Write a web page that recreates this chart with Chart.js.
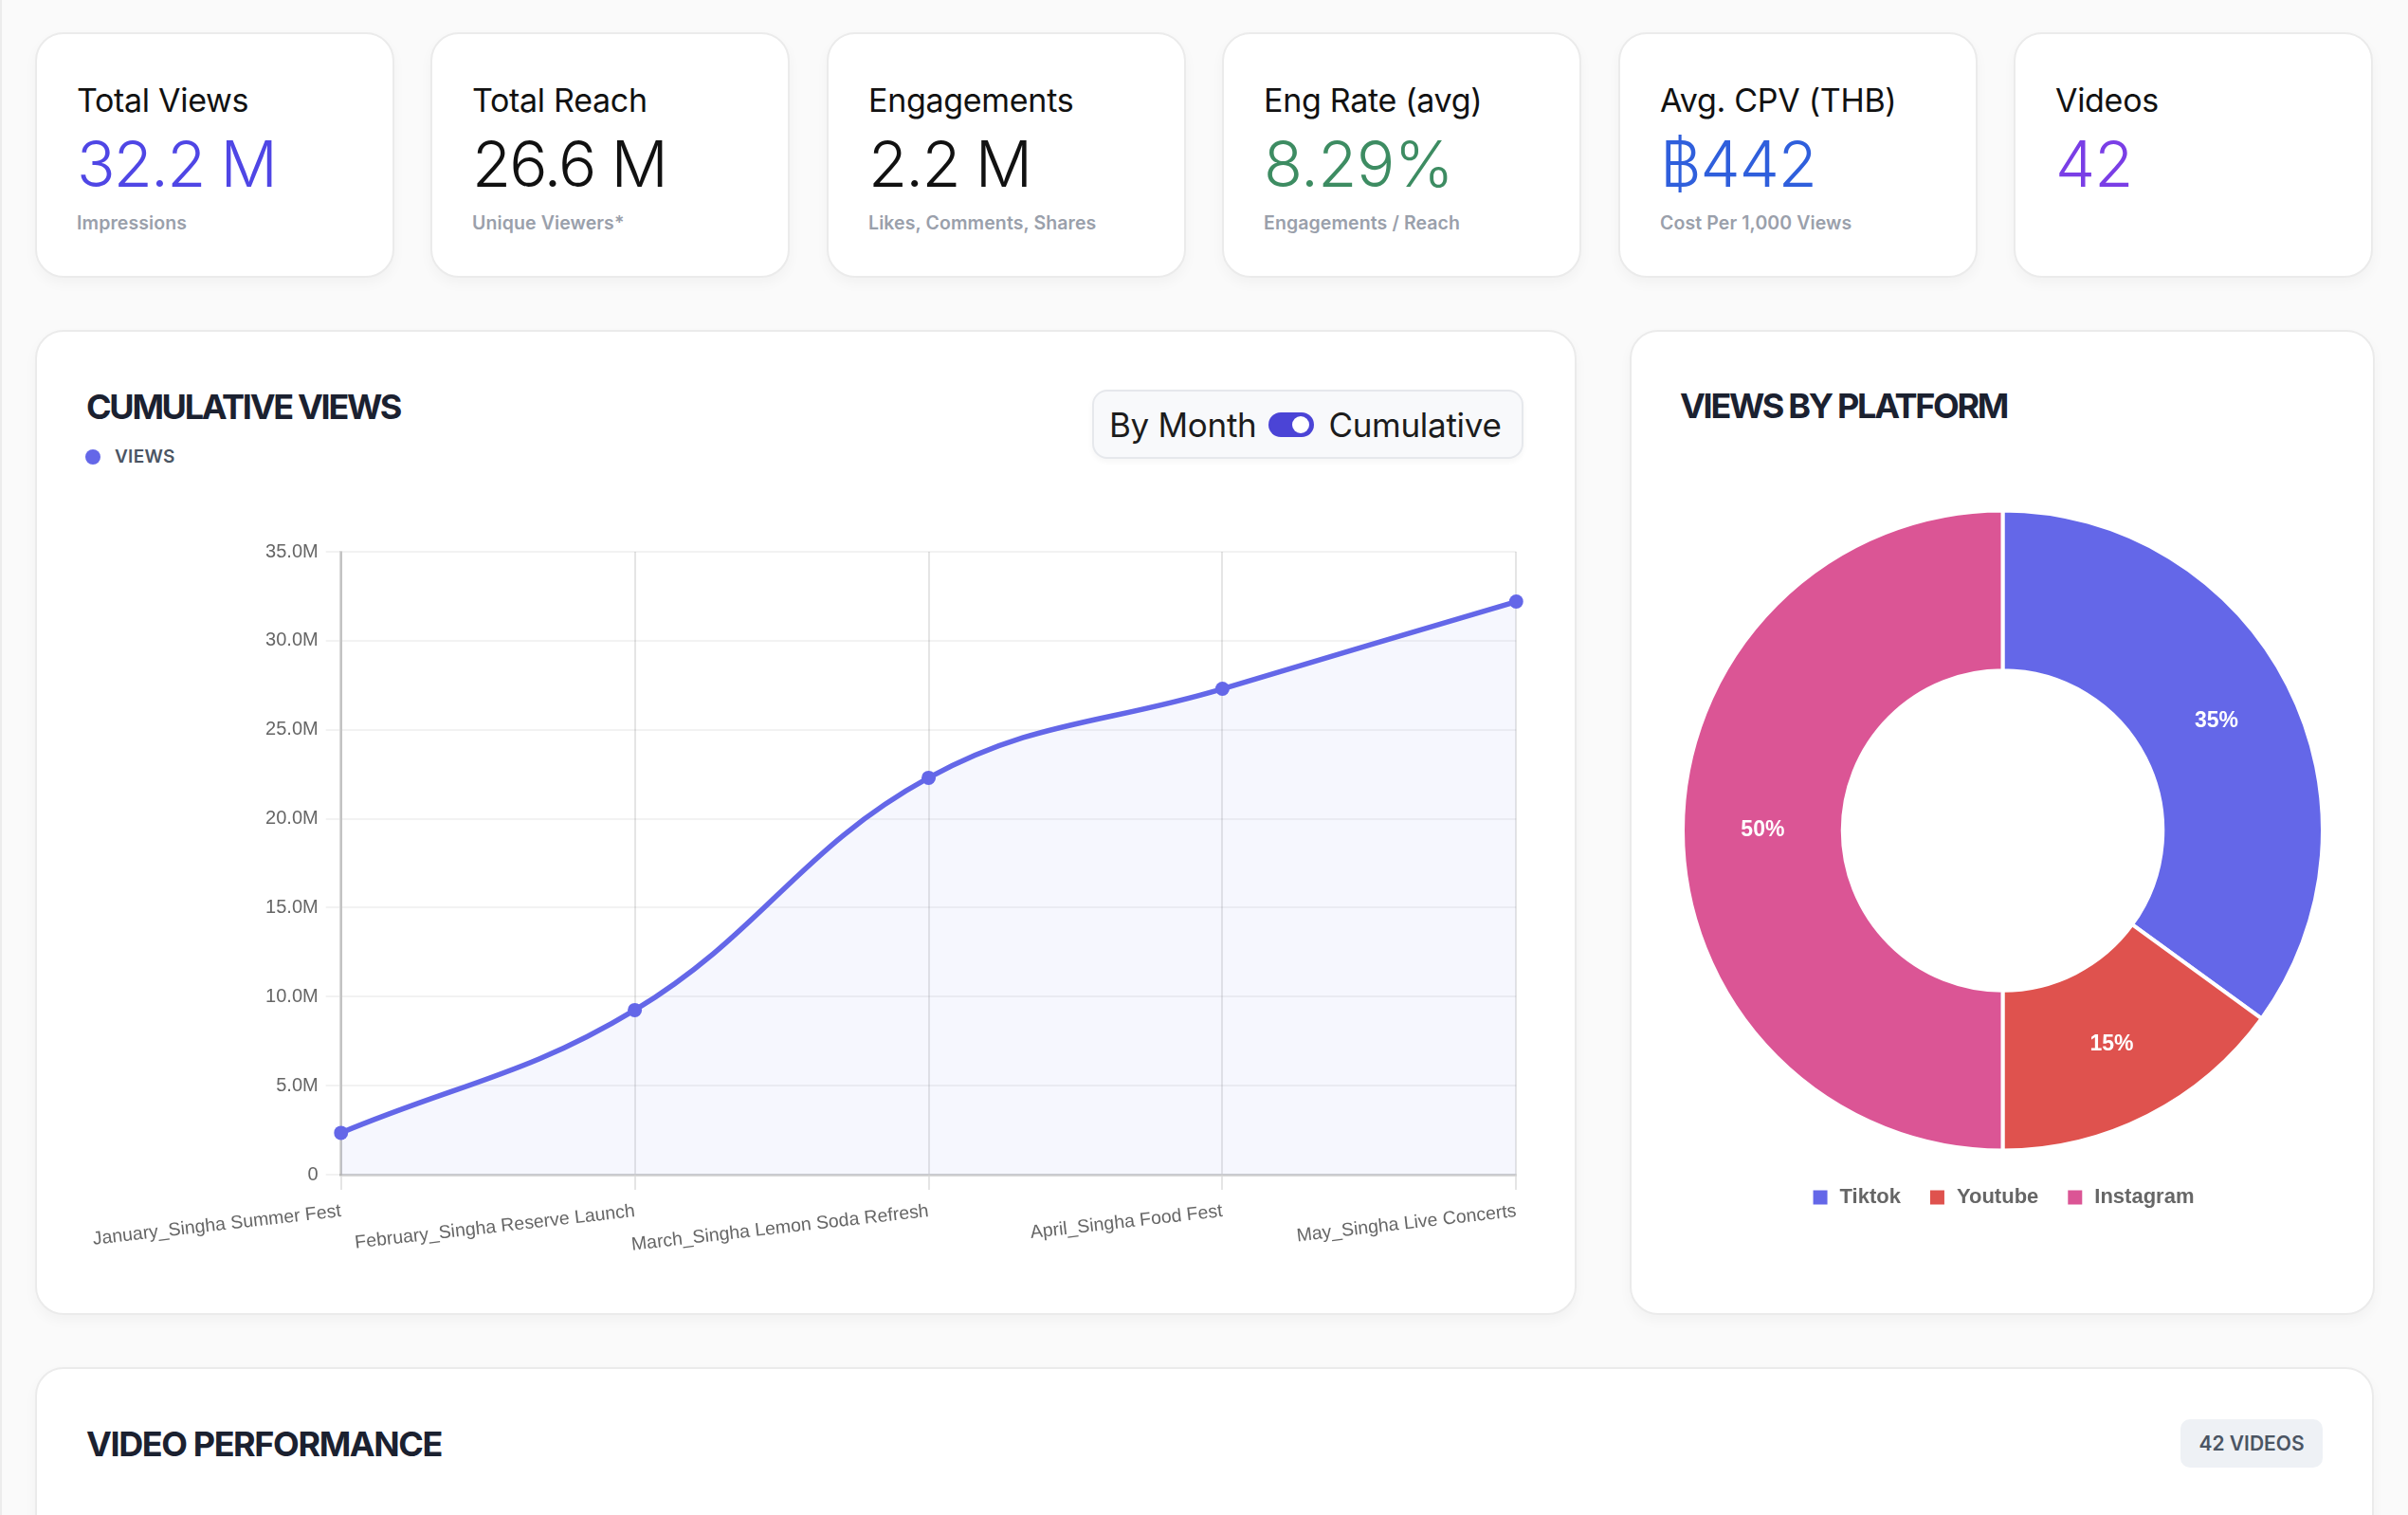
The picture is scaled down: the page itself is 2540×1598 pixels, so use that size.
<!DOCTYPE html>
<html lang="en">
<head>
<meta charset="utf-8">
<title>Campaign dashboard</title>
<script src="https://cdn.jsdelivr.net/npm/chart.js@4.4.1/dist/chart.umd.min.js"></script>
<style>
  * { box-sizing: border-box; }
  html, body { margin: 0; padding: 0; }
  body {
    width: 2540px; height: 1598px; overflow: hidden; position: relative;
    background: #fafafa; font-family: Inter, "Noto Sans", sans-serif; color: #111;
  }
  .borde { position: absolute; left: 0; top: 0; width: 2px; height: 1598px; background: #ececec; }
  .tarjeta {
    position: absolute; background: #fff; border: 2px solid #ebebeb;
    border-radius: 30px; box-shadow: 0 6px 14px rgba(0, 0, 0, 0.035);
  }
  .kpi { top: 34px; width: 379px; height: 259px; padding: 53px 0 0 42px; }
  .kpi .titulo { font-size: 34px; line-height: 34px; font-weight: 400; letter-spacing: -0.3px; }
  .kpi .valor { font-size: 67px; line-height: 67px; font-weight: 300; margin-top: 16px; letter-spacing: -1.8px; }
  .kpi .nota { font-size: 19.5px; line-height: 19.5px; font-weight: 600; color: #9aa0ab; margin-top: 20px; letter-spacing: 0.1px; }
  .encabezado {
    position: absolute; font-size: 36px; line-height: 36px; font-weight: 700;
    letter-spacing: -2.3px; color: #1b2130; white-space: nowrap;
  }
  .leyenda-vistas { position: absolute; left: 90px; top: 470px; display: flex; align-items: center; }
  .leyenda-vistas span.punto { width: 16px; height: 16px; border-radius: 50%; background: #6467e8; }
  .leyenda-vistas span.texto { margin-left: 15px; font-size: 19px; font-weight: 600; color: #4b5563; letter-spacing: 0.3px; }
  .conmutador {
    position: absolute; left: 1152px; top: 411px; width: 455px; height: 73px;
    border: 2px solid #e6e8ec; border-radius: 16px; background: #f8f9fb;
    display: flex; align-items: center; padding-left: 16px;
    font-size: 35px; color: #1c1c1c; letter-spacing: -0.3px;
    box-shadow: 0 3px 6px rgba(0, 0, 0, 0.04);
  }
  .switch { width: 48px; height: 26px; border-radius: 13px; background: #4b44d6; margin: 0 15px 0 13px; position: relative; }
  .switch::after { content: ""; position: absolute; right: 5px; top: 4px; width: 18px; height: 18px; border-radius: 50%; background: #fff; }
  .insignia {
    position: absolute; left: 2300px; top: 1497px; width: 150px; height: 51px;
    border-radius: 10px; background: #eef1f5; color: #4b5563;
    font-size: 21px; font-weight: 600; display: flex; align-items: center; justify-content: center;
  }
  canvas { position: absolute; }
</style>
</head>
<body>
<div class="borde"></div>

<div class="tarjeta kpi" style="left:37px"><div class="titulo">Total Views</div><div class="valor" style="color:#4f46e5">32.2 M</div><div class="nota">Impressions</div></div>
<div class="tarjeta kpi" style="left:454px"><div class="titulo">Total Reach</div><div class="valor">26.6 M</div><div class="nota">Unique Viewers*</div></div>
<div class="tarjeta kpi" style="left:872px"><div class="titulo">Engagements</div><div class="valor">2.2 M</div><div class="nota">Likes, Comments, Shares</div></div>
<div class="tarjeta kpi" style="left:1289px"><div class="titulo">Eng Rate (avg)</div><div class="valor" style="color:#3d8c62; letter-spacing:-0.5px">8.29%</div><div class="nota">Engagements / Reach</div></div>
<div class="tarjeta kpi" style="left:1707px"><div class="titulo">Avg. CPV (THB)</div><div class="valor" style="color:#2f5fdc; letter-spacing:-1px">฿442</div><div class="nota">Cost Per 1,000 Views</div></div>
<div class="tarjeta kpi" style="left:2124px"><div class="titulo">Videos</div><div class="valor" style="color:#7a3ee6; letter-spacing:-1px">42</div></div>

<div class="tarjeta" style="left:37px; top:348px; width:1626px; height:1039px"></div>
<div class="encabezado" style="left:91px; top:411px">CUMULATIVE VIEWS</div>
<div class="leyenda-vistas"><span class="punto"></span><span class="texto">VIEWS</span></div>
<div class="conmutador"><span>By Month</span><span class="switch"></span><span>Cumulative</span></div>
<canvas id="grafico" width="1526" height="774" style="left:87px; top:562px"></canvas>

<div class="tarjeta" style="left:1719px; top:348px; width:786px; height:1039px"></div>
<div class="encabezado" style="left:1772px; top:410px">VIEWS BY PLATFORM</div>
<canvas id="dona" width="679" height="755" style="left:1773px; top:529px"></canvas>

<div class="tarjeta" style="left:37px; top:1442px; width:2467px; height:400px"></div>
<div class="encabezado" style="left:91px; top:1505px; letter-spacing:-1.4px">VIDEO PERFORMANCE</div>
<div class="insignia">42 VIDEOS</div>

<script>
const etiquetas = [
  "January_Singha Summer Fest",
  "February_Singha Reserve Launch",
  "March_Singha Lemon Soda Refresh",
  "April_Singha Food Fest",
  "May_Singha Live Concerts"
];
const vistasAcumuladas = [2350000, 9250000, 22300000, 27300000, 32200000];
const ejeMaximo = 35000000;
const ejePaso = 5000000;

const plataformas = ["Tiktok", "Youtube", "Instagram"];
const porcentajes = [35, 15, 50];
const coloresPlataforma = ["#6467e8", "#df524e", "#db5595"];

Chart.defaults.font.family = "'Liberation Sans', Arial, Helvetica, sans-serif";
Chart.defaults.color = "#666";

const grafico = document.getElementById("grafico");
const dona = document.getElementById("dona");

function formatoMillones(valor) {
  if (valor === 0) return "0";
  return (valor / 1000000).toFixed(1) + "M";
}

function graficarVistas() {
  new Chart(grafico, {
    type: "line",
    data: {
      labels: etiquetas,
      datasets: [
        {
          label: "Views",
          data: vistasAcumuladas,
          borderColor: "#6467e8",
          backgroundColor: "rgba(99, 102, 241, 0.055)",
          fill: true,
          tension: 0.4,
          borderWidth: 5.5,
          pointRadius: 7.5,
          pointBorderWidth: 0,
          pointBackgroundColor: "#6467e8",
        },
      ],
    },
    options: {
      responsive: false,
      animation: false,
      devicePixelRatio: 1,
      plugins: { legend: { display: false }, tooltip: { enabled: false } },
      scales: {
        x: {
          grid: { color: "rgba(0,0,0,0.1)", lineWidth: 2, tickLength: 16 },
          border: { color: "rgba(0,0,0,0.15)", width: 3 },
          ticks: { font: { size: 19.5 }, padding: 11, minRotation: 6.5, maxRotation: 6.5, autoSkip: false },
        },
        y: {
          min: 0,
          max: ejeMaximo,
          grid: { color: "rgba(0,0,0,0.05)", lineWidth: 2, tickLength: 16 },
          border: { color: "rgba(0,0,0,0.15)", width: 3 },
          ticks: { stepSize: ejePaso, font: { size: 20 }, padding: 8, callback: formatoMillones },
        },
      },
    },
  });
}

const etiquetasPorcentaje = {
  id: "etiquetasPorcentaje",
  afterDatasetsDraw(chart) {
    const ctx = chart.ctx;
    chart.getDatasetMeta(0).data.forEach((arco, i) => {
      const pos = arco.tooltipPosition();
      ctx.save();
      ctx.fillStyle = "#fff";
      ctx.font = "bold 23px 'Liberation Sans', Arial, sans-serif";
      ctx.textAlign = "center";
      ctx.textBaseline = "middle";
      ctx.fillText(porcentajes[i] + "%", pos.x, pos.y);
      ctx.restore();
    });
  },
};

function graficarPlataformas() {
  new Chart(dona, {
    type: "doughnut",
    data: {
      labels: plataformas,
      datasets: [
        {
          data: porcentajes,
          backgroundColor: coloresPlataforma,
          borderColor: "#fff",
          borderWidth: 4,
          hoverOffset: 0,
        },
      ],
    },
    options: {
      responsive: false,
      animation: false,
      devicePixelRatio: 1,
      cutout: "50%",
      plugins: {
        tooltip: { enabled: false },
        legend: {
          position: "bottom",
          labels: {
            boxWidth: 19,
            boxHeight: 19,
            padding: 29,
            color: "#666",
            font: { size: 22, weight: "bold" },
          },
        },
      },
    },
    plugins: [etiquetasPorcentaje],
  });
}

graficarVistas();
graficarPlataformas();
</script>
</body>
</html>
